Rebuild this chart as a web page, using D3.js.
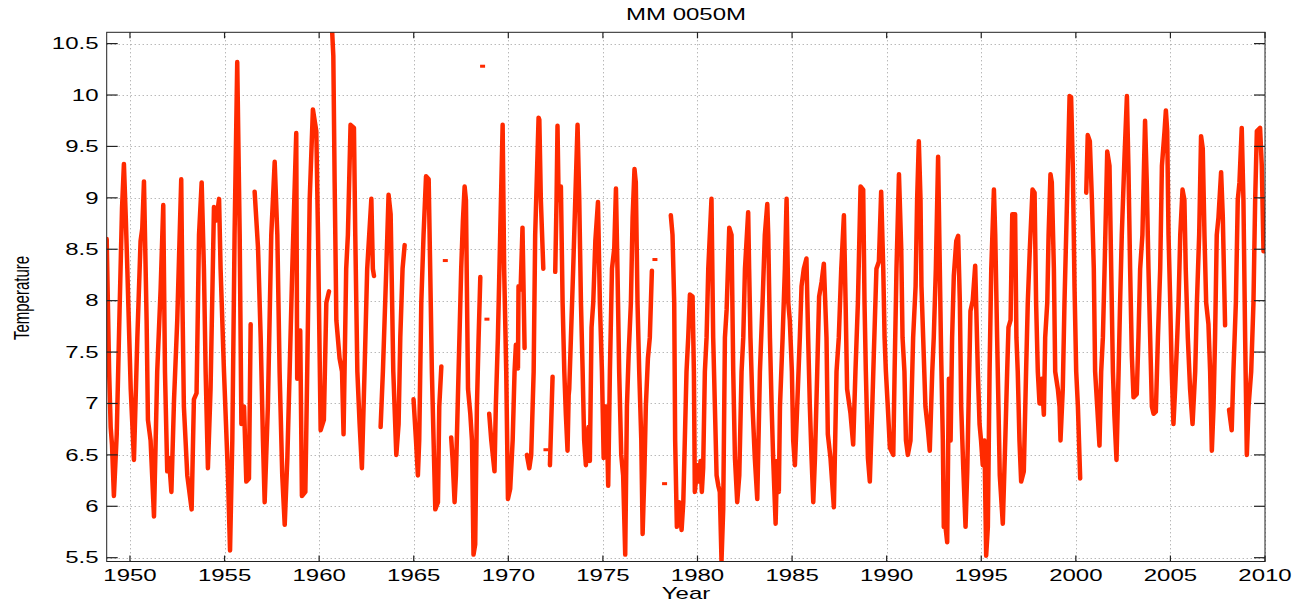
<!DOCTYPE html>
<html>
<head>
<meta charset="utf-8">
<script src="https://cdn.jsdelivr.net/npm/d3@7"></script>
<style>
  body { margin: 0; background: #fff; }
  text { font-family: "Liberation Sans", Arial, sans-serif; fill: #000; }
</style>
</head>
<body>
<div id="chart"></div>
<script>
// monthly-ish readings, [decimal year, temperature], one array per unbroken run
const run1948 = [
  [1948.77, 8.60], [1948.90, 7.30], [1948.98, 6.77], [1949.05, 6.60], [1949.15, 6.10], [1949.30, 6.70],
  [1949.45, 7.90], [1949.58, 8.90], [1949.68, 9.33], [1949.78, 8.80], [1949.86, 8.31], [1950.04, 7.14],
  [1950.21, 6.45], [1950.39, 7.64], [1950.56, 8.58], [1950.65, 8.70], [1950.74, 9.16], [1950.88, 7.81],
  [1950.95, 6.84], [1951.09, 6.64], [1951.27, 5.90], [1951.44, 7.31], [1951.62, 8.11], [1951.76, 8.93],
  [1951.85, 7.31], [1951.97, 6.34], [1952.06, 6.47], [1952.19, 6.14], [1952.33, 7.04], [1952.50, 7.81],
  [1952.71, 9.18], [1952.78, 7.91], [1952.85, 6.97], [1953.03, 6.30], [1953.26, 5.97], [1953.38, 7.04],
  [1953.52, 7.10], [1953.65, 8.64], [1953.79, 9.15], [1953.91, 8.31], [1954.00, 7.31], [1954.12, 6.37],
  [1954.26, 7.14], [1954.44, 8.91], [1954.56, 8.78], [1954.71, 8.99], [1954.79, 8.31], [1954.97, 7.31],
  [1955.18, 6.30], [1955.29, 5.57], [1955.41, 6.64], [1955.53, 8.64], [1955.67, 10.32], [1955.80, 8.64],
  [1955.89, 6.80], [1956.03, 6.97], [1956.15, 6.24], [1956.29, 6.27], [1956.38, 7.77]
];
const run1956 = [
  [1956.59, 9.06], [1956.77, 8.51], [1956.91, 7.64], [1957.03, 6.64], [1957.12, 6.04], [1957.29, 6.97],
  [1957.47, 8.64], [1957.65, 9.35], [1957.79, 8.64], [1957.91, 7.31], [1958.05, 6.30], [1958.18, 5.82],
  [1958.32, 6.47], [1958.44, 7.31], [1958.58, 8.31], [1958.79, 9.63], [1958.84, 7.24], [1959.00, 7.71],
  [1959.09, 6.10], [1959.27, 6.14], [1959.37, 7.31], [1959.50, 8.98], [1959.67, 9.86], [1959.85, 9.65],
  [1959.94, 8.64], [1960.08, 6.74], [1960.25, 6.84], [1960.38, 7.98], [1960.52, 8.09]
];
const run1960 = [
  [1960.64, 10.80], [1960.75, 10.38], [1960.82, 9.15], [1960.91, 7.81], [1961.08, 7.44], [1961.21, 7.31],
  [1961.29, 6.70], [1961.43, 8.31], [1961.52, 8.64], [1961.66, 9.71], [1961.84, 9.68], [1961.91, 8.64],
  [1962.02, 7.31], [1962.14, 6.80], [1962.26, 6.37], [1962.40, 7.31], [1962.54, 8.31], [1962.76, 8.99],
  [1962.84, 8.31], [1962.90, 8.24]
];
const run1963 = [
  [1963.25, 6.77], [1963.37, 7.31], [1963.55, 8.31], [1963.67, 9.03], [1963.78, 8.84], [1963.92, 7.31],
  [1964.08, 6.50], [1964.20, 6.80], [1964.29, 7.64], [1964.41, 8.31], [1964.52, 8.54]
];
const run1965 = [
  [1964.99, 7.04], [1965.12, 6.64], [1965.22, 6.30], [1965.29, 6.64], [1965.40, 7.98], [1965.52, 8.64],
  [1965.65, 9.21], [1965.79, 9.18], [1965.87, 8.31], [1965.96, 7.31], [1966.05, 6.64], [1966.14, 5.97],
  [1966.28, 6.04], [1966.35, 6.97], [1966.46, 7.36]
];
const run1967 = [
  [1966.98, 6.67], [1967.05, 6.47], [1967.16, 6.04], [1967.23, 6.30], [1967.37, 7.31], [1967.51, 8.31],
  [1967.60, 8.78], [1967.69, 9.11], [1967.76, 8.98], [1967.81, 8.14], [1967.87, 7.14], [1967.99, 6.90],
  [1968.08, 6.64], [1968.16, 5.53], [1968.25, 5.63], [1968.34, 6.97], [1968.43, 7.64], [1968.52, 8.23]
];
const run1969 = [
  [1968.99, 6.90], [1969.10, 6.64], [1969.27, 6.34], [1969.34, 6.97], [1969.45, 7.64], [1969.57, 8.64],
  [1969.70, 9.71], [1969.78, 8.31], [1969.89, 7.31], [1969.98, 6.07], [1970.10, 6.17], [1970.23, 6.64],
  [1970.33, 7.31], [1970.40, 7.57], [1970.51, 7.34], [1970.54, 8.14], [1970.65, 8.11], [1970.75, 8.71],
  [1970.86, 7.54]
];
const run1971 = [
  [1970.98, 6.50], [1971.11, 6.37], [1971.21, 6.50], [1971.34, 7.31], [1971.42, 8.64], [1971.60, 9.78],
  [1971.64, 9.76], [1971.72, 8.98], [1971.85, 8.31]
];
const run1972a = [[1972.20, 6.40], [1972.34, 7.26]];
const run1972b = [
  [1972.48, 8.28], [1972.55, 8.98], [1972.60, 9.70], [1972.66, 8.98], [1972.69, 9.11], [1972.78, 9.11],
  [1972.87, 7.98], [1972.96, 7.31], [1973.04, 6.90], [1973.13, 6.54], [1973.19, 7.08], [1973.22, 7.14],
  [1973.31, 7.64], [1973.43, 8.31], [1973.54, 8.98], [1973.66, 9.71], [1973.75, 8.98], [1973.84, 7.98],
  [1973.93, 7.31], [1974.01, 6.64], [1974.10, 6.40], [1974.24, 6.77], [1974.31, 6.44], [1974.40, 7.74],
  [1974.49, 7.98], [1974.60, 8.58], [1974.74, 8.96], [1974.84, 7.98], [1974.95, 7.31], [1975.04, 6.47],
  [1975.12, 6.97], [1975.19, 6.97], [1975.28, 6.20], [1975.37, 7.31], [1975.48, 8.31], [1975.60, 8.51],
  [1975.69, 9.09], [1975.77, 8.31], [1975.86, 7.31], [1975.97, 6.50], [1976.07, 6.30], [1976.18, 5.53],
  [1976.27, 6.97], [1976.36, 7.47], [1976.48, 7.98], [1976.57, 8.81], [1976.67, 9.28], [1976.74, 9.15],
  [1976.83, 7.98], [1976.92, 7.31], [1977.03, 6.64], [1977.10, 5.73], [1977.19, 6.30], [1977.27, 6.97],
  [1977.38, 7.44], [1977.48, 7.64], [1977.59, 8.29]
];
const run1978 = [
  [1978.59, 8.83], [1978.68, 8.64], [1978.77, 7.98], [1978.82, 6.64], [1978.91, 5.80], [1979.03, 6.04],
  [1979.16, 5.77], [1979.25, 6.04], [1979.33, 6.64], [1979.42, 7.31], [1979.51, 7.64], [1979.60, 8.06],
  [1979.74, 8.04], [1979.81, 7.31], [1979.86, 6.14], [1979.99, 6.40], [1980.09, 6.24], [1980.16, 6.44],
  [1980.23, 6.14], [1980.30, 6.37], [1980.39, 7.31], [1980.48, 7.64], [1980.57, 8.31], [1980.74, 8.99],
  [1980.83, 7.64], [1980.92, 6.97], [1981.01, 6.30], [1981.10, 6.20], [1981.18, 6.14], [1981.27, 5.47],
  [1981.36, 5.97], [1981.45, 7.64], [1981.54, 7.91], [1981.68, 8.71], [1981.80, 8.64], [1981.89, 7.31],
  [1981.98, 6.47], [1982.10, 6.04], [1982.21, 6.30], [1982.33, 7.31], [1982.42, 7.64], [1982.51, 8.31],
  [1982.68, 8.86], [1982.73, 8.31], [1982.80, 7.64], [1982.91, 6.97], [1983.03, 6.47], [1983.16, 6.07],
  [1983.30, 7.31], [1983.44, 7.98], [1983.56, 8.64], [1983.69, 8.94], [1983.74, 8.64], [1983.83, 7.64],
  [1983.92, 6.97], [1984.00, 6.47], [1984.13, 5.83], [1984.21, 6.44], [1984.30, 6.14], [1984.36, 6.97],
  [1984.50, 7.64], [1984.62, 8.31], [1984.71, 8.99], [1984.80, 7.98], [1984.88, 7.81], [1984.99, 7.31],
  [1985.06, 6.64], [1985.15, 6.40], [1985.27, 6.97], [1985.41, 7.64], [1985.50, 8.14], [1985.62, 8.31],
  [1985.76, 8.41], [1985.85, 7.64], [1985.94, 6.97], [1986.03, 6.47], [1986.12, 6.04], [1986.21, 6.47],
  [1986.33, 7.31], [1986.43, 8.04], [1986.56, 8.18], [1986.68, 8.36], [1986.82, 7.64], [1986.89, 6.70],
  [1987.03, 6.47], [1987.21, 5.99], [1987.35, 7.31], [1987.47, 7.64], [1987.60, 8.31], [1987.74, 8.83],
  [1987.83, 7.98], [1987.91, 7.14], [1988.09, 6.90], [1988.23, 6.60], [1988.35, 7.31], [1988.48, 7.98],
  [1988.62, 9.11], [1988.76, 9.08], [1988.83, 7.98], [1988.90, 7.31], [1989.01, 6.47], [1989.11, 6.24],
  [1989.24, 6.97], [1989.32, 7.47], [1989.46, 8.31], [1989.59, 8.38], [1989.71, 9.06], [1989.82, 8.31],
  [1989.89, 7.64], [1989.96, 7.31], [1990.06, 6.97], [1990.17, 6.57], [1990.35, 6.50], [1990.42, 7.31],
  [1990.52, 8.31], [1990.65, 9.23], [1990.77, 8.51], [1990.84, 7.64], [1990.94, 7.31], [1991.02, 6.64],
  [1991.12, 6.50], [1991.26, 6.64], [1991.40, 7.64], [1991.53, 8.14], [1991.61, 8.98], [1991.70, 9.55],
  [1991.79, 8.98], [1991.84, 8.14], [1991.93, 7.64], [1992.05, 6.97], [1992.18, 6.75], [1992.28, 6.54],
  [1992.41, 7.31], [1992.49, 7.64], [1992.60, 8.31], [1992.72, 9.40], [1992.81, 8.31], [1992.88, 7.47],
  [1992.97, 6.64], [1993.02, 5.80], [1993.11, 5.80], [1993.20, 5.65], [1993.29, 7.24], [1993.38, 6.64],
  [1993.46, 7.64], [1993.55, 8.24], [1993.68, 8.58], [1993.78, 8.63], [1993.87, 7.98], [1993.94, 6.97],
  [1994.05, 6.37], [1994.17, 5.80], [1994.26, 6.34], [1994.43, 7.90], [1994.55, 8.00], [1994.68, 8.34],
  [1994.73, 7.98], [1994.82, 7.31], [1994.91, 6.80], [1994.99, 6.64], [1995.08, 6.40], [1995.17, 6.64],
  [1995.26, 5.52], [1995.35, 5.80], [1995.44, 7.31], [1995.53, 8.31], [1995.67, 9.08], [1995.74, 8.64],
  [1995.84, 7.64], [1995.91, 6.97], [1995.98, 6.30], [1996.14, 5.83], [1996.27, 6.64], [1996.37, 7.31],
  [1996.44, 7.74], [1996.55, 7.81], [1996.64, 8.84], [1996.79, 8.84], [1996.86, 7.64], [1996.93, 7.31],
  [1997.02, 6.64], [1997.11, 6.24], [1997.25, 6.34], [1997.37, 7.31], [1997.46, 7.98], [1997.57, 8.51],
  [1997.71, 9.08], [1997.82, 9.05], [1997.90, 7.98], [1997.99, 7.31], [1998.08, 7.00], [1998.20, 7.24],
  [1998.31, 6.89], [1998.38, 7.64], [1998.49, 7.98], [1998.56, 8.64], [1998.66, 9.23], [1998.73, 9.15],
  [1998.84, 8.31], [1998.91, 7.31], [1999.05, 7.14], [1999.14, 6.97], [1999.19, 6.64], [1999.31, 7.14],
  [1999.40, 7.98], [1999.49, 8.64], [1999.58, 9.31], [1999.67, 9.99], [1999.75, 9.98], [1999.84, 9.31],
  [1999.93, 8.14], [2000.02, 7.31], [2000.11, 6.97], [2000.23, 6.27]
];
const run2000 = [
  [2000.55, 9.05], [2000.63, 9.61], [2000.74, 9.55], [2000.85, 8.98], [2000.95, 8.31], [2001.02, 7.31],
  [2001.13, 6.97], [2001.25, 6.59], [2001.34, 7.31], [2001.43, 7.64], [2001.52, 8.31], [2001.66, 9.45],
  [2001.78, 9.31], [2001.87, 8.31], [2001.96, 7.31], [2002.04, 6.88], [2002.15, 6.45], [2002.26, 7.31],
  [2002.34, 7.98], [2002.43, 8.64], [2002.57, 9.38], [2002.70, 9.99], [2002.78, 9.31], [2002.87, 8.31],
  [2002.96, 7.47], [2003.05, 7.06], [2003.22, 7.09], [2003.31, 7.64], [2003.40, 8.31], [2003.52, 8.64],
  [2003.66, 9.75], [2003.75, 9.15], [2003.84, 8.31], [2003.93, 7.64], [2004.02, 6.97], [2004.11, 6.90],
  [2004.23, 6.92], [2004.34, 7.64], [2004.46, 8.31], [2004.55, 9.31], [2004.69, 9.65], [2004.76, 9.85],
  [2004.83, 9.65], [2004.90, 8.64], [2004.99, 7.98], [2005.07, 7.31], [2005.16, 6.80], [2005.25, 7.14],
  [2005.36, 7.64], [2005.43, 7.98], [2005.52, 8.64], [2005.64, 9.08], [2005.74, 8.98], [2005.81, 8.31],
  [2005.92, 7.64], [2006.04, 7.14], [2006.17, 6.80], [2006.31, 7.31], [2006.40, 7.98], [2006.52, 8.64],
  [2006.62, 9.60], [2006.71, 9.48], [2006.80, 8.64], [2006.89, 7.98], [2007.01, 7.77], [2007.10, 7.31],
  [2007.19, 6.54], [2007.28, 6.97], [2007.36, 7.64], [2007.45, 8.64], [2007.54, 8.81], [2007.68, 9.25],
  [2007.77, 8.81], [2007.89, 7.76]
];
const run2008 = [
  [2008.10, 6.94], [2008.24, 6.74], [2008.33, 7.31], [2008.46, 7.98], [2008.56, 8.98], [2008.65, 9.15],
  [2008.77, 9.68], [2008.86, 8.98], [2008.95, 7.64], [2009.04, 6.50], [2009.13, 6.97], [2009.27, 7.31],
  [2009.39, 7.98], [2009.48, 8.98], [2009.57, 9.65], [2009.74, 9.68], [2009.83, 9.31], [2009.92, 8.48],
  [2009.97, 8.48]
];
// lone months with no neighbours
const loneYears = [1966.67, 1968.64, 1968.87, 1971.99, 1977.75, 1978.26];
const loneTemps = [8.39, 10.28, 7.82, 6.55, 8.40, 6.22];

const runs = [run1948, run1956, run1960, run1963, run1965, run1967, run1969, run1971,
  run1972a, run1972b, run1978, run2000, run2008];

const xTicks = [1950, 1955, 1960, 1965, 1970, 1975, 1980, 1985, 1990, 1995, 2000, 2005, 2010];
const yTicks = [5.5, 6, 6.5, 7, 7.5, 8, 8.5, 9, 9.5, 10, 10.5];

const width = 1295, height = 601;
const plotL = 106.7, plotR = 1265, plotT = 32.3, plotB = 561.5;
const stretch = 1.5; // the original glyphs are drawn wide

const svg = d3.select('#chart').append('svg')
  .attr('width', width)
  .attr('height', height);

const x = d3.scaleLinear().domain([1948.77, 2010]).range([plotL, plotR]);
const y = d3.scaleLinear().domain([5.463, 10.61]).range([plotB, plotT]);

svg.append('defs').append('clipPath').attr('id', 'plot')
  .append('rect')
  .attr('x', plotL).attr('y', plotT)
  .attr('width', plotR - plotL).attr('height', plotB - plotT);

// dotted grid
const grid = svg.append('g').attr('stroke', '#9a9a9a').attr('stroke-width', 1)
  .attr('stroke-dasharray', '1,3');
grid.selectAll('.vg').data(xTicks).join('line')
  .attr('x1', d => Math.round(x(d)) + 0.5).attr('x2', d => Math.round(x(d)) + 0.5)
  .attr('y1', plotT).attr('y2', plotB);
grid.selectAll('.hg').data(yTicks).join('line')
  .attr('y1', d => Math.round(y(d)) + 0.5).attr('y2', d => Math.round(y(d)) + 0.5)
  .attr('x1', plotL).attr('x2', plotR);

// series
const line = d3.line().x(d => x(d[0])).y(d => y(d[1]));
const plot = svg.append('g').attr('clip-path', 'url(#plot)');
plot.selectAll('path').data(runs).join('path')
  .attr('d', line)
  .attr('fill', 'none')
  .attr('stroke', '#ff2a00')
  .attr('stroke-width', 4.5)
  .attr('stroke-linejoin', 'round')
  .attr('stroke-linecap', 'round');
plot.selectAll('rect.lone').data(loneYears).join('rect')
  .attr('class', 'lone')
  .attr('x', d => x(d) - 2.5)
  .attr('y', (d, i) => y(loneTemps[i]) - 1.5)
  .attr('width', 5).attr('height', 3)
  .attr('fill', '#ff2a00');

// box and inward ticks
svg.append('rect')
  .attr('x', plotL).attr('y', plotT)
  .attr('width', plotR - plotL).attr('height', plotB - plotT)
  .attr('fill', 'none').attr('stroke', '#222').attr('stroke-width', 1);

const ticks = svg.append('g').attr('stroke', '#222').attr('stroke-width', 1.2);
xTicks.forEach(t => {
  const px = x(t);
  ticks.append('line').attr('x1', px).attr('x2', px).attr('y1', plotB).attr('y2', plotB - 6);
  ticks.append('line').attr('x1', px).attr('x2', px).attr('y1', plotT).attr('y2', plotT + 6);
});
yTicks.forEach(t => {
  const py = y(t);
  ticks.append('line').attr('x1', plotL).attr('x2', plotL + 11).attr('y1', py).attr('y2', py);
  ticks.append('line').attr('x1', plotR).attr('x2', plotR - 11).attr('y1', py).attr('y2', py);
});

// labels
svg.selectAll('text.xt').data(xTicks).join('text')
  .attr('class', 'xt')
  .attr('transform', d => `translate(${x(d)},581) scale(${stretch},1)`)
  .attr('text-anchor', 'middle')
  .attr('font-size', 16)
  .text(d => d);

svg.selectAll('text.yt').data(yTicks).join('text')
  .attr('class', 'yt')
  .attr('transform', d => `translate(98.5,${y(d) + 5.8}) scale(${stretch},1)`)
  .attr('text-anchor', 'end')
  .attr('font-size', 16)
  .text(d => d);

svg.append('text')
  .attr('transform', `translate(686,20) scale(${stretch},1)`)
  .attr('text-anchor', 'middle')
  .attr('font-size', 16)
  .text('MM 0050M');

svg.append('text')
  .attr('transform', `translate(686,599) scale(${stretch},1)`)
  .attr('text-anchor', 'middle')
  .attr('font-size', 16)
  .text('Year');

svg.append('text')
  .attr('transform', `translate(29,298) scale(${stretch},1) rotate(-90)`)
  .attr('text-anchor', 'middle')
  .attr('font-size', 15)
  .text('Temperature');
</script>
</body>
</html>
